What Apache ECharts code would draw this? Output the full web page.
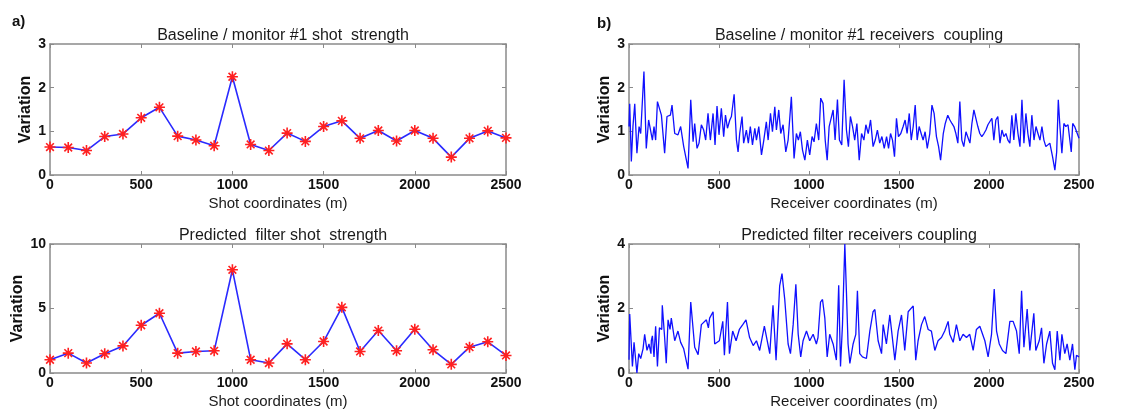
<!DOCTYPE html>
<html>
<head>
<meta charset="utf-8">
<script src="https://cdn.jsdelivr.net/npm/echarts@6/dist/echarts.min.js"></script>
<style>
html,body{margin:0;padding:0;background:#fff;}
#chart{width:1145px;height:416px;}
</style>
</head>
<body>
<div id="chart"></div>
<script>
// ---------------- DATA ----------------
const shotCoords = [0,100,200,300,400,500,600,700,800,900,1000,1100,1200,1300,1400,1500,1600,1700,1800,1900,2000,2100,2200,2300,2400,2500];
const baselineShot = [0.64,0.63,0.56,0.88,0.94,1.31,1.55,0.89,0.80,0.67,2.25,0.70,0.56,0.96,0.77,1.11,1.24,0.84,1.02,0.78,1.02,0.84,0.41,0.84,1.01,0.85];
const predictedShot = [1.03,1.54,0.77,1.49,2.10,3.70,4.63,1.54,1.67,1.72,8.00,1.03,0.77,2.26,1.03,2.44,5.09,1.67,3.29,1.72,3.39,1.80,0.67,2.00,2.42,1.36];

const receiverBaseline = [[0,1.11],[4,1.63],[13,0.31],[22,1.11],[32,1.63],[44,0.50],[56,1.11],[65,0.95],[74,0.99],[83,2.37],[96,0.61],[109,1.26],[120,1.26],[130,0.80],[139,1.11],[148,0.80],[158,1.68],[180,1.37],[198,0.50],[211,1.34],[230,1.37],[239,1.60],[254,0.95],[272,0.92],[287,1.11],[304,0.65],[315,0.65],[328,0.15],[343,1.72],[356,0.76],[365,1.18],[378,0.61],[389,0.73],[402,1.15],[415,1.03],[426,0.80],[439,1.41],[452,0.80],[467,1.41],[478,0.69],[489,1.58],[500,0.92],[513,1.53],[526,0.88],[536,1.37],[547,1.07],[560,1.26],[569,1.34],[584,1.85],[597,0.80],[606,0.53],[615,0.95],[628,1.34],[637,0.73],[652,1.03],[663,0.73],[674,1.11],[686,0.69],[699,1.07],[708,0.80],[721,1.11],[736,0.46],[749,0.80],[763,1.22],[773,0.80],[786,1.41],[797,0.99],[810,1.56],[819,1.03],[832,1.49],[843,0.95],[856,1.15],[871,0.53],[884,0.80],[893,0.80],[902,1.79],[917,0.38],[930,0.95],[941,0.80],[952,0.99],[964,0.57],[977,0.34],[991,0.80],[1004,0.46],[1017,0.88],[1028,0.76],[1041,1.18],[1054,0.80],[1065,1.76],[1078,1.64],[1090,0.80],[1101,0.34],[1112,1.11],[1123,1.11],[1134,1.49],[1145,0.80],[1158,1.73],[1169,0.80],[1182,0.69],[1195,2.18],[1208,1.03],[1219,0.65],[1230,1.34],[1242,1.11],[1254,0.80],[1266,1.18],[1279,0.34],[1292,0.95],[1305,0.80],[1316,1.15],[1329,0.95],[1342,1.26],[1356,0.65],[1368,0.80],[1380,1.03],[1393,0.73],[1405,0.88],[1418,0.61],[1431,0.88],[1442,0.61],[1453,0.95],[1464,0.80],[1475,0.42],[1486,1.30],[1497,0.88],[1510,0.95],[1523,1.11],[1534,1.26],[1545,0.95],[1557,1.41],[1568,0.80],[1579,1.11],[1590,1.60],[1601,0.80],[1612,1.11],[1623,0.95],[1634,0.80],[1645,0.99],[1657,0.61],[1671,0.95],[1683,1.60],[1695,1.41],[1708,0.88],[1720,0.65],[1731,0.34],[1746,0.95],[1757,1.18],[1771,1.37],[1783,1.26],[1794,1.18],[1805,1.11],[1816,0.95],[1827,0.73],[1838,1.68],[1849,0.80],[1860,0.65],[1872,0.99],[1883,0.95],[1894,0.73],[1905,1.18],[1916,1.49],[1927,1.53],[1938,1.11],[1949,0.95],[1960,0.88],[1972,0.95],[1983,1.03],[1994,1.15],[2005,1.11],[2016,1.30],[2027,0.80],[2038,1.26],[2049,1.34],[2061,0.73],[2072,1.03],[2083,0.88],[2094,0.95],[2105,0.80],[2116,0.73],[2127,1.37],[2138,0.80],[2149,1.41],[2161,0.95],[2172,0.65],[2183,1.72],[2194,0.73],[2205,1.41],[2216,0.95],[2227,0.65],[2238,1.37],[2250,0.80],[2261,1.11],[2272,0.95],[2283,0.80],[2294,1.11],[2305,0.80],[2316,0.65],[2327,0.65],[2338,0.73],[2353,0.42],[2366,0.11],[2376,0.53],[2385,1.72],[2394,1.11],[2405,0.50],[2416,1.18],[2427,1.11],[2439,1.15],[2450,1.18],[2457,0.53],[2465,1.18],[2476,1.11],[2487,1.07],[2500,0.84]];

const receiverPredicted = [[0,0.41],[4,1.83],[19,0.2],[28,0.95],[37,0.95],[44,0.0],[54,0.6],[65,0.45],[78,0.75],[87,1.2],[100,0.7],[111,0.9],[122,0.6],[124,1.0],[130,1.15],[139,0.5],[148,1.45],[158,0.2],[169,1.4],[182,1.35],[185,2.1],[198,1.1],[207,0.3],[217,1.65],[228,1.35],[235,1.7],[254,1.0],[272,1.3],[287,0.95],[304,0.75],[328,0.12],[343,2.2],[365,0.8],[384,0.57],[402,1.5],[430,1.65],[441,1.4],[448,1.7],[467,1.9],[476,0.9],[502,1.0],[521,1.6],[530,0.55],[547,2.2],[558,0.6],[576,1.3],[595,1.0],[613,1.35],[632,1.5],[650,1.65],[670,1.1],[690,0.85],[708,1.0],[726,0.7],[752,1.45],[763,1.5],[782,0.6],[800,2.1],[817,0.4],[837,2.7],[850,3.08],[865,2.3],[884,0.9],[897,0.6],[912,1.5],[927,2.75],[940,1.2],[954,0.5],[967,1.0],[986,1.3],[1004,1.0],[1023,1.2],[1041,0.9],[1050,1.1],[1064,2.2],[1075,2.28],[1088,1.7],[1101,0.5],[1115,1.2],[1134,0.9],[1152,0.4],[1165,2.72],[1175,0.2],[1186,1.5],[1199,4.0],[1208,2.5],[1217,0.9],[1227,0.3],[1245,0.9],[1260,1.2],[1269,2.55],[1282,0.6],[1297,0.5],[1319,0.45],[1338,1.3],[1356,1.9],[1366,1.97],[1384,1.0],[1403,0.6],[1412,1.5],[1430,0.9],[1449,1.8],[1477,0.4],[1495,1.3],[1514,1.8],[1532,0.7],[1551,1.9],[1579,2.08],[1593,0.4],[1606,1.0],[1625,1.5],[1643,1.75],[1662,1.35],[1680,1.3],[1699,0.7],[1717,1.0],[1736,1.1],[1754,1.3],[1773,1.6],[1782,1.2],[1801,0.95],[1819,1.5],[1838,1.0],[1856,1.2],[1875,1.1],[1893,1.2],[1912,0.7],[1930,1.35],[1949,1.45],[1977,1.0],[1995,0.5],[2014,1.2],[2029,2.6],[2042,1.3],[2057,0.9],[2075,0.7],[2094,0.6],[2116,1.6],[2134,1.6],[2153,1.3],[2168,0.6],[2181,2.55],[2194,0.8],[2212,1.98],[2227,0.7],[2249,1.85],[2260,0.7],[2279,1.0],[2292,1.4],[2305,0.3],[2320,0.9],[2338,1.3],[2353,0.3],[2366,0.1],[2379,1.3],[2394,0.4],[2405,1.2],[2421,0.6],[2434,0.9],[2449,0.4],[2464,0.9],[2477,0.1],[2486,0.55],[2500,0.5]];

const panelTitles = ['Baseline / monitor #1 shot  strength','Predicted  filter shot  strength','Baseline / monitor #1 receivers  coupling','Predicted filter receivers coupling'];
const xNames = ['Shot coordinates (m)','Shot coordinates (m)','Receiver coordinates (m)','Receiver coordinates (m)'];
const yMax = [3,10,3,4];
const yStep = [1,5,1,2];
const xMax = 2500, xStep = 500;

// ---------------- LAYOUT ----------------
const FONT = '"Liberation Sans", Arial, sans-serif';
const grids = [
  {left:50, top:44, width:456, height:131},
  {left:50, top:244, width:456, height:129},
  {left:629, top:44, width:450, height:131},
  {left:629, top:244, width:450, height:129}
];
const yNameGap = [16,24,16,16];
const frameColor = '#8a8a8a';
const plainNum = v => String(v);

const xAxes = [], yAxes = [];
grids.forEach((g,i)=>{
  xAxes.push({
    gridIndex:i, type:'value', min:0, max:xMax, interval:xStep, position:'bottom',
    name:xNames[i], nameLocation:'middle', nameGap:21,
    nameTextStyle:{fontFamily:FONT,fontSize:15,color:'#1a1a1a'},
    axisLine:{show:true,onZero:false,lineStyle:{color:frameColor,width:1.5}},
    axisTick:{show:true,inside:true,length:4,lineStyle:{color:frameColor,width:1}},
    axisLabel:{fontFamily:FONT,fontSize:14,fontWeight:'bold',color:'#111',margin:3,formatter:plainNum},
    splitLine:{show:false}
  });
  xAxes.push({
    gridIndex:i, type:'value', min:0, max:xMax, interval:xStep, position:'top',
    axisLine:{show:true,onZero:false,lineStyle:{color:frameColor,width:1.5}},
    axisTick:{show:true,inside:true,length:4,lineStyle:{color:frameColor,width:1}},
    axisLabel:{show:false}, splitLine:{show:false}
  });
  yAxes.push({
    gridIndex:i, type:'value', min:0, max:yMax[i], interval:yStep[i], position:'left',
    name:'Variation', nameLocation:'middle', nameGap:yNameGap[i], nameRotate:90,
    nameTextStyle:{fontFamily:FONT,fontSize:16,fontWeight:'bold',color:'#111'},
    axisLine:{show:true,onZero:false,lineStyle:{color:frameColor,width:1.5}},
    axisTick:{show:true,inside:true,length:4,lineStyle:{color:frameColor,width:1}},
    axisLabel:{fontFamily:FONT,fontSize:14,fontWeight:'bold',color:'#111',margin:4,formatter:plainNum},
    splitLine:{show:false}
  });
  yAxes.push({
    gridIndex:i, type:'value', min:0, max:yMax[i], interval:yStep[i], position:'right',
    axisLine:{show:true,onZero:false,lineStyle:{color:frameColor,width:1.5}},
    axisTick:{show:true,inside:true,length:4,lineStyle:{color:frameColor,width:1}},
    axisLabel:{show:false}, splitLine:{show:false}
  });
});

const asterisk = 'path://M5,0L5,10M0,5L10,5M1.5,1.5L8.5,8.5M1.5,8.5L8.5,1.5';
function shotSeries(idx, vals){
  return {
    type:'line', xAxisIndex:idx*2, yAxisIndex:idx*2,
    data: shotCoords.map((x,k)=>[x, vals[k]]),
    lineStyle:{color:'#2a2aff',width:1.6},
    symbol:asterisk, symbolSize:11, showSymbol:true,
    itemStyle:{color:'#ff2020',borderColor:'#ff2020',borderWidth:1.6},
    z:3, animation:false, silent:true
  };
}
function recSeries(idx, pts){
  return {
    type:'line', xAxisIndex:idx*2, yAxisIndex:idx*2,
    data: pts, showSymbol:false, symbol:'none',
    lineStyle:{color:'#1010ff',width:1.3},
    animation:false, silent:true
  };
}

const titleTops = [23,223,23,223];
const option = {
  backgroundColor:'#fff',
  animation:false,
  grid: grids.map(g=>Object.assign({containLabel:false},g)),
  xAxis:xAxes, yAxis:yAxes,
  title: panelTitles.map((t,i)=>({
    text:t, left: grids[i].left + grids[i].width/2, top:titleTops[i], textAlign:'center',
    textStyle:{fontFamily:FONT,fontSize:16,fontWeight:'normal',color:'#1a1a1a'}
  })).concat([
    {text:'a)', left:7, top:9, textStyle:{fontFamily:FONT,fontSize:15,fontWeight:'bold',color:'#111'}},
    {text:'b)', left:592, top:11, textStyle:{fontFamily:FONT,fontSize:15,fontWeight:'bold',color:'#111'}}
  ]),
  series:[
    shotSeries(0, baselineShot),
    shotSeries(1, predictedShot),
    recSeries(2, receiverBaseline),
    recSeries(3, receiverPredicted)
  ]
};
const chart = echarts.init(document.getElementById('chart'), null, {renderer:'canvas'});
chart.setOption(option);
</script>
</body>
</html>
